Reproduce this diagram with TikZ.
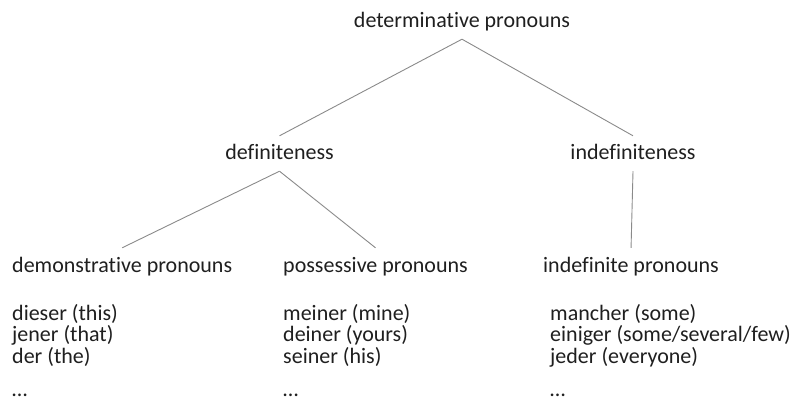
\documentclass[tikz,border=0pt]{standalone}
\usepackage{fontspec}
\setmainfont{Carlito}[Ligatures=NoCommon]
\definecolor{inkcol}{HTML}{1F1F1F}
\definecolor{linkcol}{HTML}{8A8A8A}
\begin{document}
\begin{tikzpicture}[x=1pt,y=-1pt,
  every node/.style={font=\fontsize{22}{24}\selectfont, text=inkcol},
  label/.style={inner xsep=0pt, inner ysep=6pt, text height=18pt, text depth=5pt, anchor=base},
  header/.style={label, anchor=base west},
  entry/.style={inner sep=0pt, anchor=base west},
  link/.style={draw=linkcol, line width=0.9pt}]
\useasboundingbox (0,0) rectangle (797,403);

% tree levels
\node[label] (det) at (462,28) {determinative pronouns};
\node[label] (def) at (279.5,160) {definiteness};
\node[label] (indef) at (633,160) {indefiniteness};
\node[header] (dem) at (12,272) {demonstrative pronouns};
\node[header] (pos) at (283,272) {possessive pronouns};
\node[header] (ind) at (543,272) {indefinite pronouns};

% branches
\draw[link] (det.south) -- (def.north);
\draw[link] (det.south) -- (indef.north);
\draw[link] (def.south) -- (dem.north);
\draw[link] (def.south) -- (pos.north);
\draw[link] (indef.south) -- (ind.north);

% example lists
\node[entry] (d1) at (12,320) {dieser (this)};
\node[entry] (d2) at (12,341.5) {jener (that)};
\node[entry] (d3) at (12,363) {der (the)};
\node[entry] (d4) at (12,396) {…};

\node[entry] (p1) at (283,320) {meiner (mine)};
\node[entry] (p2) at (283,341.5) {deiner (yours)};
\node[entry] (p3) at (283,363) {seiner (his)};
\node[entry] (p4) at (283,396) {…};

\node[entry] (i1) at (550,320) {mancher (some)};
\node[entry] (i2) at (550,341.5) {einiger (some/several/few)};
\node[entry] (i3) at (550,363) {jeder (everyone)};
\node[entry] (i4) at (550,396) {…};
\end{tikzpicture}
\end{document}
